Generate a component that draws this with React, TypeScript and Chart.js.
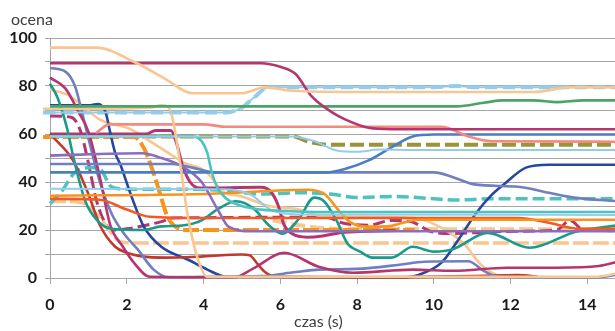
import React, { useEffect, useRef } from 'react';
import { Chart, registerables } from 'chart.js';
Chart.register(...registerables);

type P = [number, number];

const xTickLabels = [0, 2, 4, 6, 8, 10, 12, 14];
const yTickLabels = [0, 20, 40, 60, 80, 100];
const xTitle = 'czas (s)';
const yTitle = 'ocena';

// series: [czas (s), ocena]
const peachTop: P[] = [[0,96],[1.2,96],[2.2,90],[3.0,83],[3.7,77],[5.0,77],[5.6,79.5],[6.3,78],[8,77.5],[10,77.5],[12.6,77.5],[13.6,79.5],[14.8,79.5]];
const berryTop: P[] = [[0,89.5],[5.5,89.5],[6.0,88],[6.4,85],[6.8,76],[7.35,69],[7.7,66],[8.3,62.6],[8.9,62],[14.8,62]];
const green: P[] = [[0,71.5],[10.6,71.5],[11.3,73],[11.8,74],[12.6,74],[13.2,73.3],[13.9,74],[14.8,74]];
const lightBlueDash: P[] = [[-0.18,69],[2,69],[4.6,69],[5.0,71],[5.3,75],[5.7,79.5],[7,79.5],[10,79.5],[10.6,80],[11,79.5],[14.8,79.5]];
const peach70: P[] = [[-0.18,70.5],[2.6,71],[2.9,72],[3.07,71.5],[3.2,66],[3.35,52],[3.6,25],[3.85,8],[4.1,0.5],[14.2,0.5],[14.8,2]];
const salmon: P[] = [[1.2,60.5],[1.55,64],[4,64],[4.6,63],[10.2,63],[10.9,59],[11.5,57],[14.8,56.8]];
const oliveDash: P[] = [[2.4,59],[6.3,59],[6.8,56.5],[7.3,55.5],[14.8,55.5]];
const orangeDash: P[] = [[-0.18,58.7],[2.2,58.7],[2.45,54],[2.65,46],[2.85,36],[3.05,26],[3.3,21],[3.6,20],[9.5,20]];
const lightBlue59: P[] = [[0,59],[6.3,59],[6.9,57],[7.5,53],[8.0,52.6],[8.6,53.5],[9.5,53.3],[14.8,53.3]];
const turquoise59: P[] = [[0,59],[3.7,59],[3.95,57],[4.1,52],[4.2,45],[4.35,38],[4.6,33],[5.0,30],[5.5,28.5],[6,28],[7,27.5],[14.8,27.5]];
const lightBlue37: P[] = [[0,37.2],[4.5,37],[5.2,35],[5.8,28],[6.5,26.5],[14.8,26.3]];
const turquoiseDash: P[] = [[0,31],[0.3,36],[0.65,44],[1.1,46],[1.3,45.5],[1.6,38],[2.0,37],[3.5,37],[4.5,36.5],[5.5,35],[6.5,35.5],[7.3,35],[8,33.5],[9,34],[10,33],[10.6,32.5],[11.5,33],[14.8,33]];
const steelBlue: P[] = [[0,44],[7.2,44],[7.7,45.5],[8.3,49],[8.85,54],[9.45,59],[10,59.8],[14.8,59.8]];
const slate47: P[] = [[0,47.5],[3.2,47.5],[3.7,46],[4.3,44],[10.0,44],[10.5,42],[11.05,39],[12.2,38],[13.0,35.5],[13.7,33.4],[14.8,32]];
const purple51: P[] = [[0,51],[2.4,52],[2.9,50],[3.5,46],[3.95,40],[4.4,27.6],[4.65,21.4],[5.25,19.5],[14.8,19.5]];
const orange35: P[] = [[0,34.3],[4,35],[6.7,36.8],[7.15,35],[7.55,27.6],[7.8,23.5],[8.25,21.4],[8.8,21.5],[9.2,23],[9.6,24.3],[14.8,24.3]];
const redOrange: P[] = [[0,33],[1.3,32.6],[2.0,28.5],[2.6,25.5],[4,25],[12.2,25],[13,23],[13.8,20.5],[14.8,20.5]];
const peach32: P[] = [[0,32],[0.8,31.5],[1.3,25],[1.57,19.3],[1.85,15],[2.2,14.6],[14.8,14.6]];
const teal81: P[] = [[0,81],[0.2,75],[0.45,62],[0.6,51],[0.92,32],[1.26,23.5],[1.6,20.5],[2.4,20],[2.9,21.5],[3.5,22],[3.95,24],[4.4,29],[4.85,32],[5.3,29],[5.7,22],[6.05,18.5],[6.5,25],[6.88,33.5],[7.14,32],[7.48,23.5],[7.74,14.6],[8.08,11],[8.4,8.5],[8.9,8.5],[9.45,13],[10.0,11],[10.5,12],[11.4,18.8],[12.5,12.6],[13.7,19.3],[14.8,22]];
const berry84: P[] = [[0,83.5],[0.4,79],[0.75,69],[1.0,61],[1.3,42],[1.57,22],[1.9,13],[2.18,6.5],[2.6,0.5],[4.8,0.3],[5.3,4],[6.1,10.5],[7.0,4.7],[7.9,2.2],[9.45,3.5],[10.5,3],[11.9,4.3],[13.2,4.3],[14.3,5],[14.8,6.8]];
const slate87: P[] = [[0,87.5],[0.4,86],[0.65,80],[0.85,68],[1.05,55],[1.3,40],[1.6,27],[1.95,18],[2.28,12],[2.7,3.5],[3.1,0.3],[4.0,0.5],[5.5,0.8],[6.4,2.5],[7.0,3.5],[8.0,3.8],[9.1,5.5],[9.75,6.8],[10.9,7],[11.3,3],[11.7,0.5],[14.3,0.3],[14.8,1.5]];
const darkRed60: P[] = [[0,60],[0.6,49],[1.0,35],[1.3,22],[1.7,13],[2.0,10.5],[2.4,9],[3.0,8.5],[4.0,9],[5.0,9.8],[5.2,9.5],[5.4,6],[5.6,2.5],[5.9,0.5],[8,0.3],[11,0.8],[12.2,1.2],[12.7,0.5]];
const darkBlue: P[] = [[0,72],[1.05,72],[1.25,72.5],[1.45,69],[1.55,62],[1.7,52],[1.84,47],[2.1,35],[2.44,21.5],[2.9,13],[3.6,7.6],[4.1,3.5],[4.6,0.5],[9.3,0.3],[9.6,1.3],[10.2,6.4],[10.6,15],[11.1,27],[11.5,34.5],[11.87,39.6],[12.4,46],[13.0,47.2],[14.8,47.2]];
const berry67: P[] = [[0,67.5],[0.55,67],[0.8,61],[1.0,48],[1.2,33],[1.4,24],[1.6,20],[2.0,20.5],[2.5,22],[2.9,23.5],[3.2,25],[7.2,25.3],[7.6,23],[8.3,22],[8.9,24],[9.4,23.5],[9.9,19.5],[10.5,18.5],[11.2,19],[12.2,19.5],[13.2,20],[13.55,24],[13.9,20],[14.8,19.7]];
const berry60: P[] = [[0,60],[2.5,60],[2.75,61.5],[3.15,61.5],[3.3,56],[3.45,47],[3.65,40],[3.9,37.5],[5.5,37.8],[5.75,36],[5.95,30],[6.1,22],[6.3,18.5],[6.7,17],[7.1,17.5],[7.6,19],[8.3,19.5],[9,19.8]];
const peach79: P[] = [[0,78.5],[0.5,76],[0.9,71],[1.3,66],[2.1,62],[2.6,57],[3.0,53],[3.5,48],[4.0,45],[4.2,42],[4.5,36],[5,34],[5.7,30],[6.5,28.5],[7.0,26],[8,25.5],[9.5,25],[10.3,20],[10.8,14],[11.2,6],[11.6,1.5],[12,0.5]];
const peachDash20: P[] = [[5.8,24],[6.5,22],[7.5,20.5],[14.8,20.3]];

const C = {
  peach: '#f9c590',
  berry: '#b5366f',
  green: '#4aa564',
  lightBlue: '#92cdea',
  salmon: '#f28a80',
  olive: '#9c9338',
  orange: '#f7941d',
  redOrange: '#f15a24',
  darkRed: '#c0392b',
  steel: '#4a7ec3',
  darkBlue: '#2447a0',
  slate: '#6f7fbf',
  purple: '#8b6cbd',
  teal: '#1a9a8c',
  turquoise: '#4cc3bf',
};

export default function App() {
  const ref = useRef<HTMLCanvasElement>(null);
  useEffect(() => {
    if (!ref.current) return;
    const ds = (data: P[], color: string, width = 2.6, dash: number[] = []) => ({
      data: data.map(([x, y]) => ({ x, y })),
      borderColor: color,
      backgroundColor: color,
      borderWidth: width,
      borderDash: dash,
      pointRadius: 0,
      fill: false,
      cubicInterpolationMode: 'monotone' as const,
      clip: { left: 10, top: 4, right: 4, bottom: 4 },
      borderJoinStyle: 'round' as const,
    });
    const titles = {
      id: 'axisTitles',
      afterDraw(chart: Chart) {
        const ctx = chart.ctx;
        ctx.save();
        ctx.font = '16px Lato';
        ctx.fillStyle = '#404040';
        ctx.textBaseline = 'alphabetic';
        ctx.fillText(yTitle, 11, 25);
        ctx.fillText(xTitle, 294, 327);
        ctx.restore();
      },
    };
    const chart = new Chart(ref.current, {
      type: 'line',
      data: {
        datasets: [
          ds(peachTop, C.peach),
          ds(berryTop, C.berry),
          ds(green, C.green),
          ds(lightBlueDash, C.lightBlue, 2),
          ds(peach70, C.peach),
          ds(salmon, C.salmon),
          ds(lightBlue59, C.lightBlue, 2),
          ds(turquoise59, C.turquoise),
          ds(lightBlue37, C.lightBlue, 2),
          ds(steelBlue, C.steel),
          ds(slate47, C.slate),
          ds(purple51, C.purple),
          ds(orange35, C.orange),
          ds(redOrange, C.redOrange),
          ds(teal81, C.teal),
          ds(berry84, C.berry),
          ds(slate87, C.slate),
          ds(darkRed60, C.darkRed),
          ds(darkBlue, C.darkBlue),
          ds(berry60, C.berry, 3),
          ds(peach79, C.peach),
          ds(lightBlueDash, C.lightBlue, 4, [12, 6]),
          ds(oliveDash, C.olive, 4, [14, 5]),
          ds(orangeDash, C.orange, 4, [16, 4]),
          ds(turquoiseDash, C.turquoise, 3.5, [12, 5]),
          ds(peach32, C.peach, 3.5, [16, 4]),
          ds(berry67, C.berry, 3, [12, 5]),
          ds(peachDash20, C.peach, 4, [14, 5]),
        ],
      },
      options: {
        responsive: false,
        devicePixelRatio: 1,
        animation: false,
        events: [],
        layout: { padding: { top: 38, right: 0, left: 0, bottom: 0 } },
        plugins: { legend: { display: false }, tooltip: { enabled: false }, title: { display: false } },
        scales: {
          x: {
            type: 'linear',
            min: 0,
            max: 14.72,
            afterFit: (s: any) => { s.height = 53; },
            ticks: {
              stepSize: 2,
              includeBounds: false,
              autoSkip: false,
              maxRotation: 0,
              padding: 11,
              color: '#1a1a1a',
              font: { family: 'Lato', size: 16, weight: 'bold' },
              callback: (v: any) => (xTickLabels.includes(Number(v)) ? String(v) : ''),
            },
            grid: { drawOnChartArea: false, drawTicks: true, tickLength: 6, color: '#a6a6a6' },
            border: { display: true, color: '#a6a6a6', width: 1 },
          },
          y: {
            type: 'linear',
            min: 0,
            max: 100,
            afterFit: (s: any) => { s.width = 50; },
            ticks: {
              stepSize: 10,
              autoSkip: false,
              padding: 8,
              color: '#1a1a1a',
              font: { family: 'Lato', size: 16, weight: 'bold' },
              callback: (v: any) => (yTickLabels.includes(Number(v)) ? String(v) : ''),
            },
            grid: { color: '#a6a6a6', lineWidth: 1, tickLength: 5 },
            border: { display: true, color: '#a6a6a6', width: 1 },
          },
        },
      },
      plugins: [titles],
    } as any);
    return () => chart.destroy();
  }, []);
  return (
    <div style={{ position: 'fixed', left: 0, top: 0, width: 615, height: 331, background: '#fff' }}>
      <canvas ref={ref} width={615} height={331} />
    </div>
  );
}
